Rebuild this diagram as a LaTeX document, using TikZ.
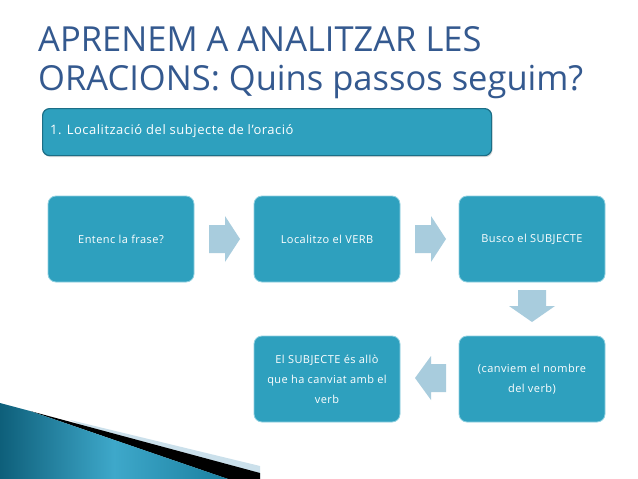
\documentclass[tikz,border=0pt]{standalone}
\usepackage{fontspec}
\setmainfont{Open Sans}
\newfontfamily\boxfont[LetterSpace=4]{Open Sans}
\usetikzlibrary{shadows}
\definecolor{titleblue}{HTML}{34598F}
\definecolor{boxfill}{HTML}{2EA0BE}
\definecolor{boxedge}{HTML}{8FD0E0}
\definecolor{hdredge}{HTML}{1C6E86}
\definecolor{arrowc}{HTML}{A8CCDD}
\definecolor{swdark}{HTML}{0E5F7A}
\definecolor{swmid}{HTML}{3EA8CA}
\definecolor{swright}{HTML}{1A7F9F}
\tikzset{
  stepbox/.style={draw=boxedge, line width=0.8pt, fill=boxfill, rounded corners=8pt,
    minimum width=146pt, minimum height=86pt, text=white, align=center,
    font=\boxfont\fontsize{11}{20}\selectfont, inner sep=0pt},
  hdrbox/.style={draw=hdredge, line width=1.2pt, fill=boxfill, rounded corners=7pt,
    minimum width=449pt, minimum height=47pt, anchor=north west, inner sep=0pt,
    drop shadow={shadow xshift=1pt, shadow yshift=-1.5pt, opacity=0.3}},
  titletext/.style={anchor=base west, text=titleblue, font=\fontsize{34.5}{38}\selectfont, inner sep=0pt},
  flowarrow/.style={fill=arrowc, draw=none},
}
\begin{document}
\begin{tikzpicture}[x=1pt,y=-1pt]
\useasboundingbox (0,0) rectangle (638,479);
\fill[white] (0,0) rectangle (638,479);
% bottom-left decoration
\fill[arrowc!60] (70,420) -- (260,466) -- (260,479) -- (200,479) -- cycle;
\fill[black] (30,411) -- (260,473) -- (260,479) -- (228,479) -- cycle;
\shade[left color=swdark, right color=swright, middle color=swmid] (0,403) -- (30,411) -- (228,479) -- (0,479) -- cycle;
% title
\node[titletext] (t1) at (38,52) {APRENEM A ANALITZAR LES};
\node[titletext] (t2) at (38,90) {ORACIONS: Quins passos seguim?};
% header
\node[hdrbox] (hdr) at (42,108) {};
\node[anchor=west, text=white, font=\boxfont\fontsize{13}{14}\selectfont, inner sep=0pt] (hdrt) at (50,131) {1. Localització del subjecte de l’oració};
% boxes
\node[stepbox] (b1) at (121,239) {Entenc la frase?};
\node[stepbox] (b2) at (327,239) {Localitzo el VERB};
\node[stepbox] (b3) at (532,239) {Busco el SUBJECTE};
\node[stepbox] (b5) at (532,379) {(canviem el nombre\\del verb)};
\node[stepbox] (b4) at (327,379) {El SUBJECTE és allò\\que ha canviat amb el\\verb};
% arrows
\fill[flowarrow] (209,225) -- (225,225) -- (225,216) -- (240,239) -- (225,262) -- (225,253) -- (209,253) -- cycle;
\fill[flowarrow] (415,225) -- (431,225) -- (431,216) -- (446,239) -- (431,262) -- (431,253) -- (415,253) -- cycle;
\fill[flowarrow] (518,290) -- (518,306) -- (509,306) -- (532,322) -- (555,306) -- (546,306) -- (546,290) -- cycle;
\fill[flowarrow] (446,364) -- (431,364) -- (431,356) -- (415,378) -- (431,400) -- (431,392) -- (446,392) -- cycle;
\end{tikzpicture}
\end{document}
